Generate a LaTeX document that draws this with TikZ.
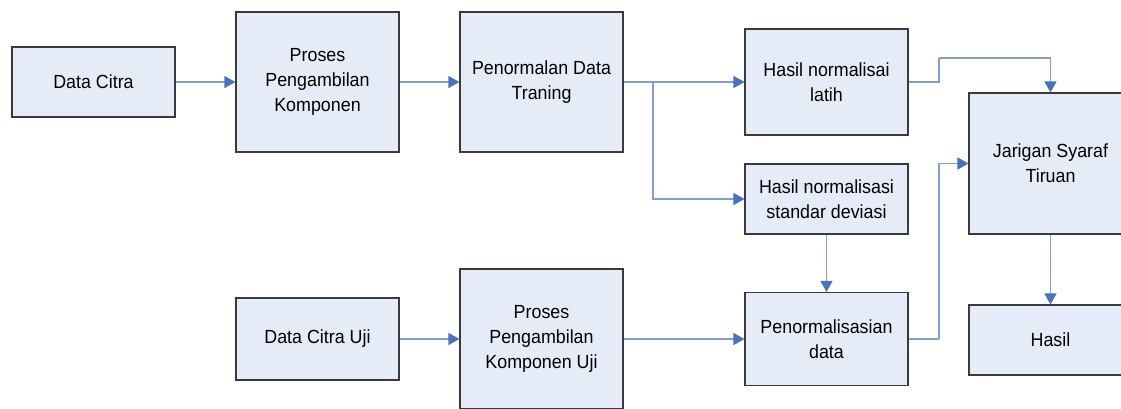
\documentclass[tikz,border=0pt]{standalone}
\usepackage{fontspec}
\setmainfont[FakeStretch=0.94]{Liberation Sans}
\usetikzlibrary{arrows.meta}
\definecolor{boxfill}{HTML}{E6ECF7}
\definecolor{boxline}{HTML}{3A3A3A}
\definecolor{conline}{HTML}{7F9FD6}
\definecolor{tipcol}{HTML}{4472C4}
\tikzset{
  blk/.style={draw=boxline, fill=boxfill, line width=1.1pt, minimum width=163pt,
    align=center, inner sep=2pt, font=\fontsize{19}{25}\selectfont},
  con/.style={draw=conline, line width=1.3pt,
    -{Triangle[length=11pt,width=12pt,color=tipcol,fill=tipcol]}},
  seg/.style={draw=conline, line width=1.3pt}
}
\begin{document}
\begin{tikzpicture}[x=1pt,y=-1pt]
\useasboundingbox (0,0) rectangle (1121,408);
\clip (0,0) rectangle (1121,408);
\node[blk, minimum height=70pt]  (dc)  at (93.5,82)    {Data Citra};
\node[blk, minimum height=140pt] (pk)  at (317.5,82)   {Proses\\Pengambilan\\Komponen};
\node[blk, minimum height=140pt] (pd)  at (541.5,82)   {Penormalan Data\\Traning};
\node[blk, minimum height=106pt] (hl)  at (826.5,82)   {Hasil normalisai\\latih};
\node[blk, minimum height=70pt]  (hs)  at (826.5,199)  {Hasil normalisasi\\standar deviasi};
\node[blk, minimum height=141pt] (jst) at (1050.5,163.5) {Jarigan Syaraf\\Tiruan};
\node[blk, minimum height=82pt]  (dcu) at (317.5,339)  {Data Citra Uji};
\node[blk, minimum height=140pt] (pku) at (541.5,339)  {Proses\\Pengambilan\\Komponen Uji};
\node[blk, minimum height=93pt]  (pn)  at (826.5,339) {Penormalisasian\\data};
\node[blk, minimum height=70pt]  (hasil) at (1050.5,340) {Hasil};
\coordinate (br) at (653,82);
\coordinate (c1) at (939,58);
\coordinate (c2) at (939,339);
\draw[con] (dc.east) -- (pk.west);
\draw[con] (pk.east) -- (pd.west);
\draw[con] (pd.east) -- (hl.west);
\draw[con] (br) |- (hs.west);
\draw[seg] (hl.east) -| (c1);
\draw[con] (c1) -| (jst.north);
\draw[con] (hs.south) -- (pn.north);
\draw[con] (dcu.east) -- (pku.west);
\draw[con] (pku.east) -- (pn.west);
\draw[seg] (pn.east) -- (c2);
\draw[con] (c2) |- (jst.west);
\draw[con] (jst.south) -- (hasil.north);
\end{tikzpicture}
\end{document}
